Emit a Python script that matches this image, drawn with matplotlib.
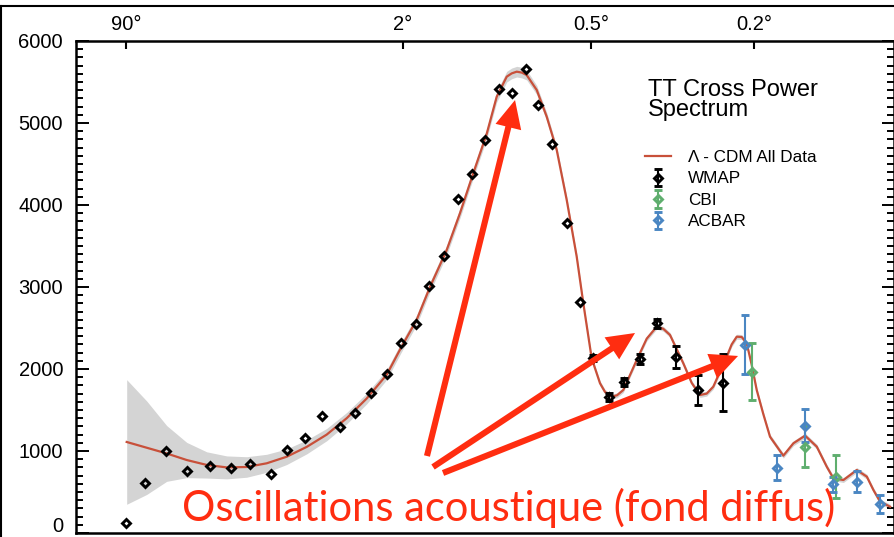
import numpy as np
import matplotlib.pyplot as plt
from matplotlib.lines import Line2D
from matplotlib.ticker import MultipleLocator, NullLocator, FuncFormatter

plt.rcParams['font.family'] = ['Liberation Sans', 'DejaVu Sans']

# Lambda-CDM best fit model (multipole l, l(l+1)Cl/2pi in uK^2) and grey cosmic variance half width
MODEL_L = [2.019, 2.658, 3.499, 4.607, 6.064, 7.981, 10.505, 13.83, 18.20, 23.96,
           31.54, 41.52, 54.65, 71.94, 87.6, 99.57, 109.8, 124.2, 137.0, 151.2,
           166.9, 179.6, 193.4, 200.6, 208.2, 216.0, 224.0, 241.3, 259.7, 279.6,
           301.0, 324.0, 340.2, 361.4, 378.7, 389.5, 404.5, 416.8, 431.7, 465.5,
           492.4, 520.9, 540.5, 561.3, 604.9, 634.1, 664.4, 689.9, 715.8, 772.0,
           793.9, 816.7, 840.1, 863.9, 888.5, 913.8, 948.3, 984.7, 1061.1, 1122.6,
           1199.1, 1280.3, 1354, 1405.7, 1487, 1544, 1603, 1696, 1760, 1827, 1933]
MODEL_DL = [1110, 1040, 970, 890, 830, 800, 805, 850, 930, 1050,
            1200, 1400, 1640, 1930, 2260, 2600, 3000, 3450, 3900, 4390,
            4870, 5320, 5565, 5605, 5626, 5615, 5585, 5402, 5077, 4671,
            4061, 3370, 2801, 2130, 1826, 1720, 1662, 1680, 1744, 2110,
            2370, 2516, 2490, 2415, 2069, 1830, 1683, 1700, 1784, 2150,
            2300, 2394, 2390, 2313, 2050, 1744, 1450, 1174, 943, 1094,
            1187, 1053, 809, 667, 646, 707, 768, 687, 524, 382, 321]
BAND_HALF = [760, 570, 340, 215, 160, 140, 125, 110, 95, 85,
             75, 70, 65, 60, 60, 60, 60, 60, 60, 60,
             60, 65, 65, 65, 65, 65, 60, 55, 50, 45,
             40, 35, 30, 30, 30, 30, 30, 30, 30, 30,
             30, 30, 30, 30, 30, 30, 30, 30, 30, 30,
             30, 30, 30, 30, 30, 30, 30, 30, 30, 30,
             30, 30, 30, 30, 30, 30, 30, 30, 30, 30, 30]

WMAP_L = [2.0, 2.60, 3.45, 4.61, 6.34, 8.43, 10.99, 14.61, 18.35, 23.41,
          29.69, 37.87, 46.54, 57.73, 71.94, 87.6, 99.1, 109.3, 122.1, 134.7,
          150.1, 164.8, 182.7, 201.5, 222.4, 244.1, 270.6, 300.9, 331.9, 364.7,
          399.0, 434.2, 474.2, 520.9, 580.3, 658.1, 754.9]
WMAP_DL = [118, 606, 1004, 756, 821, 789, 838, 720, 1012, 1155,
           1427, 1297, 1467, 1711, 1939, 2321, 2549, 3016, 3378, 4069,
           4374, 4793, 5411, 5370, 5655, 5220, 4740, 3777, 2821, 2130,
           1662, 1845, 2122, 2557, 2150, 1744, 1833]
WMAP_ERR = [0, 0, 0, 0, 0, 0, 0, 0, 0, 0,
            0, 0, 0, 0, 0, 0, 0, 0, 0, 0,
            0, 0, 0, 0, 0, 0, 0, 0, 0, 37,
            50, 50, 61, 55, 135, 183, 345]

CBI_L = [888.5, 1199, 1427]
CBI_DL = [1967, 1053, 687]
CBI_ERR = [350, 254, 264]

ACBAR_L = [855.7, 1022.5, 1199.1, 1401, 1603, 1827]
ACBAR_DL = [2293, 797, 1309, 594, 626, 354]
ACBAR_ERR = [360, 152, 203, 90, 128, 106]

TOP_TICK_L = [2, 90, 360, 900]
TOP_TICK_LABELS = ['90°', '2°', '0.5°', '0.2°']

# arrows: (base l, base value) -> (tip l, tip value)
ARROWS = [((107.4, 939), (205.6, 5280)),
          ((112.3, 805), (461.1, 2439)),
          ((120.9, 732), (822.8, 2159))]

# the multipole axis of the original plot: log-like at low l, opening up at high l
SCALE_L = [1, 2, 90, 360, 900, 1970]
SCALE_POS = [75.6, 126, 403, 591, 754, 893.5]


def forward(l):
    l = np.clip(np.asarray(l, dtype=float), 1e-3, None)
    return np.interp(np.log10(l), np.log10(SCALE_L), SCALE_POS)


def inverse(p):
    return 10 ** np.interp(p, SCALE_POS, np.log10(SCALE_L))


W, H = 894, 537
fig = plt.figure(figsize=(W / 100, H / 100), dpi=100)
ax = fig.add_axes([75.6 / W, 4 / H, (893.5 - 75.6) / W, 492 / H])
ax.set_xscale('function', functions=(forward, inverse))

model_l = np.array(MODEL_L)
model_dl = np.array(MODEL_DL)
half = np.array(BAND_HALF)
ax.fill_between(model_l, model_dl - half, model_dl + half, color='#d4d4d4', lw=0, zorder=1)
model_line, = ax.plot(model_l, model_dl, color='#c8503a', lw=1.6, zorder=2)

mk = dict(fmt='D', ms=4.5, mfc='none', mew=2.1, elinewidth=1.5, capsize=3, capthick=1.5)
wl, wd, we = np.array(WMAP_L), np.array(WMAP_DL), np.array(WMAP_ERR)
has_err = we > 0
ax.plot(wl[~has_err], wd[~has_err], ls='none', marker='D', ms=4.5, mfc='none',
        mec='black', mew=2.1, zorder=4)
wmap = ax.errorbar(wl[has_err], wd[has_err], yerr=we[has_err], mec='black',
                   ecolor='black', zorder=4, **mk)
cbi = ax.errorbar(CBI_L, CBI_DL, yerr=CBI_ERR, mec='#5fae6e', ecolor='#5fae6e',
                  zorder=3, **mk)
acbar = ax.errorbar(ACBAR_L, ACBAR_DL, yerr=ACBAR_ERR, mec='#4a86c2', ecolor='#4a86c2',
                    zorder=3, **mk)

ax.set_xlim(1, 1970)
ax.set_ylim(0, 6000)

ax.xaxis.set_ticks_position('top')
ax.set_xticks(TOP_TICK_L)
ax.set_xticklabels(TOP_TICK_LABELS)
ax.xaxis.set_minor_locator(NullLocator())
ax.tick_params(axis='x', direction='in', length=6, width=1.5, labelsize=14.5, pad=5)

ax.yaxis.set_major_locator(MultipleLocator(1000))
ax.yaxis.set_minor_locator(MultipleLocator(100))
# the "0" label is drawn by hand, a little higher, so that it is not cut at the bottom
ax.yaxis.set_major_formatter(FuncFormatter(lambda v, pos: '' if v == 0 else '%d' % v))
ax.tick_params(axis='y', which='both', direction='in', left=True, right=True, width=1.4,
               labelsize=14.5, pad=9)
ax.tick_params(axis='y', which='major', length=9)
ax.tick_params(axis='y', which='minor', length=5)
for s in ax.spines.values():
    s.set_linewidth(1.8)
ax.annotate('0', xy=(0, 0), xycoords=('axes fraction', 'data'), xytext=(-9, 4.5),
            textcoords='offset points', ha='right', va='center', fontsize=14.5,
            annotation_clip=False)

fig.text(648 / W, 1 - 79 / H, 'TT Cross Power\nSpectrum', fontsize=17, va='top',
         ha='left', linespacing=0.9)
ax.legend([model_line, wmap, cbi, acbar],
          ['Λ - CDM All Data', 'WMAP', 'CBI', 'ACBAR'],
          loc='upper left', bbox_to_anchor=(645 / W, 1 - 150 / H),
          bbox_transform=fig.transFigure, frameon=False, fontsize=12.3,
          handlelength=1.55, handletextpad=0.95, labelspacing=0.38, borderpad=0,
          borderaxespad=0)

for (bl, bv), (tl, tv) in ARROWS:
    ax.annotate('', xy=(tl, tv), xytext=(bl, bv),
                arrowprops=dict(arrowstyle='simple,head_length=1.0,head_width=0.95,tail_width=0.22',
                                mutation_scale=20, color='#ff2d10', lw=0,
                                shrinkA=0, shrinkB=0), zorder=6)

fig.text(509 / W, 16 / H, 'Oscillations acoustique (fond diffus)', color='#ff2d10',
         fontsize=30, family=['Lato', 'DejaVu Sans'], ha='center', va='baseline', zorder=7)

# screenshot frame
fig.add_artist(Line2D([1 / W, 1 / W], [0, 1 - 6 / H], transform=fig.transFigure,
                      color='black', lw=1.5))
fig.add_artist(Line2D([1 / W, 1], [1 - 6 / H, 1 - 6 / H], transform=fig.transFigure,
                      color='black', lw=1.5))

fig.savefig('out.png', dpi=100)
